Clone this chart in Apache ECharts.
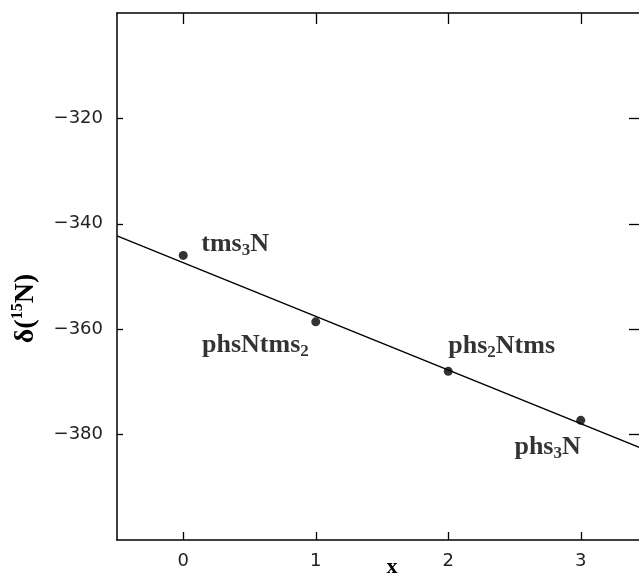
<!DOCTYPE html>
<html><head><meta charset="utf-8">
<script src="https://cdn.jsdelivr.net/npm/echarts@6/dist/echarts.min.js"></script>
<style>html,body{margin:0;padding:0;background:#fff}#c{width:639px;height:577px}</style>
</head><body><div id="c"></div>
<script>
// ---- data ----
const xValues = [0, 1, 2, 3];
const shiftValues = [-346, -358.6, -368, -377.3];
const compoundLabels = ['{a|tms}{s|3}{a|N}', '{a|phsNtms}{s|2}', '{a|phs}{s|2}{a|Ntms}', '{a|phs}{s|3}{a|N}'];
const fitLineX = [-0.5, 3.5];
const fitLineY = [-342.3, -383];
const xTickValues = [0, 1, 2, 3];
const yTickValues = [-380, -360, -340, -320];
const xAxisTitle = 'x';
const yAxisTitle = '{d|δ(}{sup|15}{d|N)}';

// label placement (styling only)
const labelPlacement = [
  {align: 'left', offset: [18, -11]},
  {align: 'right', offset: [-7, 23]},
  {align: 'left', offset: [0, -25]},
  {align: 'right', offset: [0, 27]}
];

const serif = 'Liberation Serif';
const sans = 'DejaVu Sans';
const richText = {
  a: {fontFamily: serif, fontWeight: 'bold', fontSize: 26, color: '#000', lineHeight: 30},
  s: {fontFamily: serif, fontWeight: 'bold', fontSize: 17, color: '#000', lineHeight: 17, verticalAlign: 'bottom'}
};

const pointData = xValues.map((x, i) => ({
  value: [x, shiftValues[i]],
  label: {
    show: true, position: 'inside',
    formatter: compoundLabels[i],
    align: labelPlacement[i].align, verticalAlign: 'middle',
    offset: labelPlacement[i].offset,
    rich: richText
  }
}));

const minus = v => String(v).replace('-', '\u2212');
const axisLineStyle = {color: '#000', width: 1.5};

const chart = echarts.init(document.getElementById('c'), null, {renderer: 'canvas'});
chart.setOption({
  animation: false,
  backgroundColor: '#fff',
  grid: {left: 117, top: 13, width: 530, bottom: 37, outerBoundsMode: 'none', containLabel: false},
  xAxis: [{
    type: 'value', position: 'bottom', min: -0.5, max: 3.5,
    axisLine: {show: true, onZero: false, lineStyle: axisLineStyle},
    axisTick: {show: true, inside: true, length: 8, customValues: xTickValues, lineStyle: {color: '#000', width: 1.3}},
    axisLabel: {customValues: xTickValues, fontFamily: sans, fontSize: 18, color: '#222', margin: 12},
    splitLine: {show: false},
    name: xAxisTitle, nameLocation: 'middle', nameGap: 16, nameMoveOverlap: false,
    nameTextStyle: {fontFamily: serif, fontWeight: 'bold', fontSize: 22, color: '#000', padding: [0, 0, 0, 20]}
  }, {
    type: 'value', position: 'top', min: -0.5, max: 3.5,
    axisLine: {show: true, onZero: false, lineStyle: axisLineStyle},
    axisTick: {show: true, inside: true, length: 11, customValues: xTickValues, lineStyle: {color: '#000', width: 1.3}},
    axisLabel: {show: false},
    splitLine: {show: false}
  }],
  yAxis: [{
    type: 'value', position: 'left', min: -400, max: -300,
    axisLine: {show: true, onZero: false, lineStyle: axisLineStyle},
    axisTick: {show: true, inside: true, length: 6, customValues: yTickValues, lineStyle: {color: '#000', width: 1.3}},
    axisLabel: {customValues: yTickValues, formatter: minus, fontFamily: sans, fontSize: 18, color: '#222', margin: 14},
    splitLine: {show: false},
    name: yAxisTitle, nameLocation: 'middle', nameRotate: 90, nameGap: 75, nameMoveOverlap: false,
    nameTextStyle: {
      padding: [0, 64, 0, 0],
      rich: {
        d: {fontFamily: serif, fontWeight: 'bold', fontSize: 28, color: '#000', lineHeight: 32},
        sup: {fontFamily: serif, fontWeight: 'bold', fontSize: 16, color: '#000', lineHeight: 16, verticalAlign: 'top'}
      }
    }
  }, {
    type: 'value', position: 'right', min: -400, max: -300,
    axisLine: {show: true, onZero: false, lineStyle: axisLineStyle},
    axisTick: {show: true, inside: true, length: 18, customValues: yTickValues, lineStyle: {color: '#000', width: 1.3}},
    axisLabel: {show: false},
    splitLine: {show: false}
  }],
  series: [{
    type: 'line',
    data: fitLineX.map((x, i) => [x, fitLineY[i]]),
    symbol: 'none',
    lineStyle: {color: '#000', width: 1.4},
    silent: true, z: 2
  }, {
    type: 'scatter',
    data: pointData,
    symbol: 'circle', symbolSize: 9,
    itemStyle: {color: '#000'},
    z: 3
  }]
});
</script></body></html>
